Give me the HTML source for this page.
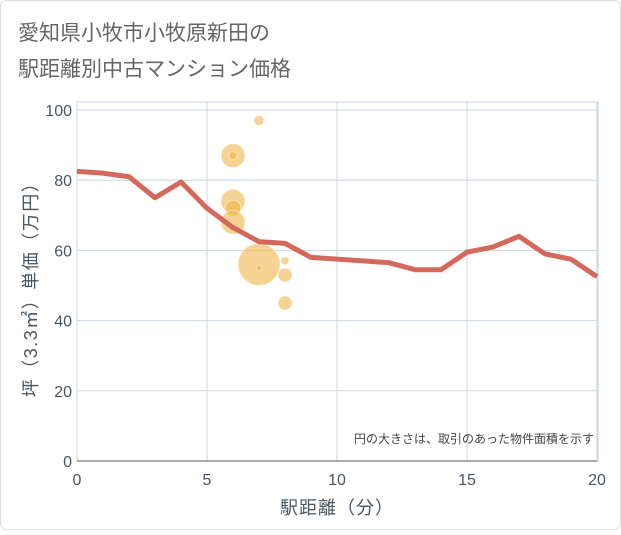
<!DOCTYPE html>
<html><head><meta charset="utf-8">
<style>
html,body{margin:0;padding:0;background:#fff;}
body{width:621px;height:530px;overflow:hidden;font-family:"Liberation Sans","Noto Sans CJK JP",sans-serif;}
</style></head>
<body>
<svg id="chart" width="621" height="530" xmlns="http://www.w3.org/2000/svg">
<rect x="0.5" y="0.5" width="620" height="529" rx="6" fill="#fff" stroke="#ddd"/>
<text x="18" y="40" font-size="21" fill="#666" font-family="Liberation Sans, Noto Sans CJK JP, sans-serif">愛知県小牧市小牧原新田の</text>
<text x="18" y="76" font-size="21" fill="#666" font-family="Liberation Sans, Noto Sans CJK JP, sans-serif">駅距離別中古マンション価格</text>
<g id="grid"></g>
<g id="bubbles"></g>
<g id="line"></g>
<g id="axes"></g>
<text x="337" y="514" font-size="18" fill="#4a5560" text-anchor="middle" letter-spacing="1" font-family="Liberation Sans, Noto Sans CJK JP, sans-serif">駅距離（分）</text>
<text transform="translate(37,285) rotate(-90)" font-size="18" fill="#4a5560" text-anchor="middle" letter-spacing="1.5" font-family="Liberation Sans, Noto Sans CJK JP, sans-serif">坪（3.3㎡）単価（万円）</text>
<text x="594" y="443" font-size="12" fill="#444" text-anchor="end" font-family="Liberation Sans, Noto Sans CJK JP, sans-serif">円の大きさは、取引のあった物件面積を示す</text>
</svg>
<script>
const xTicks=[0,5,10,15,20];
const yTicks=[0,20,40,60,80,100];
const lineX=[0,1,2,3,4,5,6,7,8,9,10,11,12,13,14,15,16,17,18,19,20];
const lineY=[82.5,82,81,75,79.5,72,66.5,62.5,62,58,57.5,57,56.5,54.5,54.5,59.5,61,64,59,57.5,52.5];
const bubX=[7,6,6,6,6,6,7,7,8,8,8];
const bubY=[97,87,87,74,72,68,56,55,57,53,45];
const bubR=[5,12,4,12,8,12,21,3,4,7,7];
const NS="http://www.w3.org/2000/svg";
const X0=77,X1=597,Y0=461,Y1=110;
const sx=v=>X0+(v-0)/(20-0)*(X1-X0);
const sy=v=>Y0-(v-0)/(100-0)*(Y0-Y1);
function mk(t,a,p){const e=document.createElementNS(NS,t);for(const k in a)e.setAttribute(k,a[k]);p.appendChild(e);return e;}
const grid=document.getElementById('grid');
const bg=mk('rect',{x:X0,y:102,width:X1-X0+1,height:Y0-102,fill:'#fff',stroke:'#c8d6e2'},grid);


yTicks.forEach(v=>{
 const l=mk('line',{x1:X0,x2:X1,y1:sy(v),y2:sy(v),stroke:'#c8d6e2','stroke-width':1},grid);
 
 
 const t=mk('text',{x:X0-5,y:sy(v)+6,'font-size':16,fill:'#4a5560','text-anchor':'end'},grid);
 t.textContent=v;
 
 
});
xTicks.forEach(v=>{
 const l=mk('line',{x1:sx(v),x2:sx(v),y1:102,y2:Y0,stroke:'#c8d6e2','stroke-width':1},grid);
 
 
 const t=mk('text',{x:sx(v),y:Y0+24,'font-size':16,fill:'#4a5560','text-anchor':'middle'},grid);
 t.textContent=v;
 
 
});
const bub=document.getElementById('bubbles');
bubX.forEach((v,i)=>{
 const c=mk('circle',{cx:sx(v),cy:sy(bubY[i]),r:bubR[i],fill:'#f0b54a','fill-opacity':0.6,stroke:'#fff','stroke-opacity':0.5},bub);
 
 
});
const pts=lineX.map((v,i)=>sx(v)+','+sy(lineY[i])).join(' ');
const pl=mk('polyline',{points:pts,fill:'none',stroke:'#d4685a','stroke-width':5,'stroke-linejoin':'round'},document.getElementById('line'));


const ax=document.getElementById('axes');
const xa=mk('line',{x1:X0,x2:X1,y1:Y0,y2:Y0,stroke:'#555','stroke-width':1},ax);


</script>
</body></html>
